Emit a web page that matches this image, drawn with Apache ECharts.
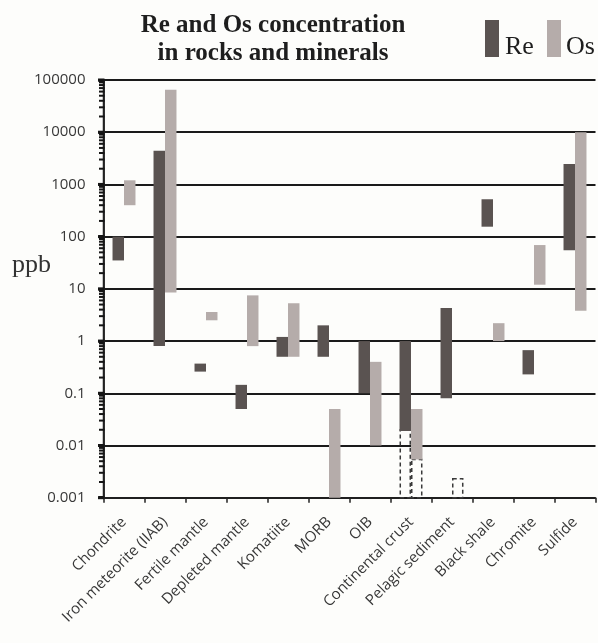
<!DOCTYPE html>
<html>
<head>
<meta charset="utf-8">
<script src="https://cdn.jsdelivr.net/npm/echarts@6/dist/echarts.min.js"></script>
<style>
html,body{margin:0;padding:0;background:#fdfdfb;}
#c{width:598px;height:643px;}
</style>
</head>
<body>
<div id="c"></div>
<script>
// ---- data ----
var categories = ['Chondrite', 'Iron meteorite (IIAB)', 'Fertile mantle', 'Depleted mantle', 'Komatiite', 'MORB', 'OIB', 'Continental crust', 'Pelagic sediment', 'Black shale', 'Chromite', 'Sulfide'];
var reLow  = [35, 0.8, 0.26, 0.05, 0.5, 0.5, 0.1, 0.019, 0.08, 155, 0.23, 55];
var reHigh = [100, 4400, 0.37, 0.145, 1.2, 2, 1, 1, 4.3, 520, 0.67, 2450];
var osLow  = [400, 8.5, 2.5, 0.8, 0.5, 0.001, 0.01, 0.0054, null, 1, 12, 3.8];
var osHigh = [1200, 65000, 3.6, 7.5, 5.3, 0.05, 0.4, 0.05, null, 2.2, 69, 10000];
// ranges drawn as dashed boxes: [category, low, high, side(-1 Re, 1 Os)]
var dashedRanges = [[7, 0.001, 0.02, -1], [7, 0.001, 0.0054, 1], [8, 0.001, 0.0023, 1]];
var yTickLabels = ['0.001', '0.01', '0.1', '1', '10', '100', '1000', '10000', '100000'];
var seriesNames = ['Re', 'Os'];

var RE_COLOR = '#5a5351';
var OS_COLOR = '#b5acaa';

function pairs(lo, hi) {
  var out = [];
  for (var i = 0; i < categories.length; i++) {
    if (lo[i] != null && hi[i] != null) out.push([i, lo[i], hi[i]]);
  }
  return out;
}

function barRender(side) {
  return function (params, api) {
    var c = api.value(0);
    var lo = api.coord([c, api.value(1)]);
    var hi = api.coord([c, api.value(2)]);
    var bw = params.coordSys.width / categories.length * 0.28;
    var x = side < 0 ? lo[0] - bw : lo[0];
    return {
      type: 'rect',
      shape: { x: x, y: hi[1], width: bw, height: lo[1] - hi[1] },
      style: api.style()
    };
  };
}

function dashedRender(params, api) {
  var c = api.value(0);
  var lo = api.coord([c, api.value(1)]);
  var hi = api.coord([c, api.value(2)]);
  var side = api.value(3);
  var bw = params.coordSys.width / categories.length * 0.28;
  var x = side < 0 ? lo[0] - bw : lo[0];
  return {
    type: 'rect',
    shape: { x: x + 0.75, y: hi[1], width: bw - 1.5, height: lo[1] - hi[1] },
    style: { fill: 'rgba(0,0,0,0)', stroke: '#3a3a3a', lineWidth: 1.5, lineDash: [4, 3] }
  };
}

// y-axis line with decade and logarithmic minor ticks (axis decoration, placed by the axis scale)
function axisDecorRender(params, api) {
  var cs = params.coordSys;
  var children = [{
    type: 'rect',
    shape: { x: cs.x - 0.75, y: cs.y, width: 2, height: cs.height },
    style: { fill: '#222' }
  }];
  for (var k = -3; k <= 5; k++) {
    for (var m = 1; m <= 9; m++) {
      var v = m * Math.pow(10, k);
      if (v > 100000) break;
      var y = api.coord([0, v])[1];
      var big = m === 1;
      children.push({
        type: 'rect',
        shape: { x: cs.x - (big ? 5.5 : 4.5), y: y - (big ? 1.5 : 1), width: big ? 6.5 : 5.5, height: big ? 3 : 2 },
        style: { fill: '#151515' }
      });
    }
  }
  return { type: 'group', children: children };
}

var chart = echarts.init(document.getElementById('c'));
var option = {
  backgroundColor: '#fdfdfb',
  animation: false,
  title: {
    text: 'Re and Os concentration\nin rocks and minerals',
    left: 273,
    top: 12,
    padding: 0,
    textAlign: 'center',
    textStyle: { fontFamily: 'Liberation Serif', fontWeight: 'bold', fontSize: 25, lineHeight: 28, color: '#1e1e1e' }
  },
  graphic: [{
    type: 'text',
    left: 12,
    top: 252,
    style: { text: 'ppb', fontFamily: 'Liberation Serif', fontSize: 26, fill: '#333' }
  }, {
    type: 'rect',
    left: 485, top: 20,
    shape: { width: 14, height: 37 },
    style: { fill: RE_COLOR }
  }, {
    type: 'text',
    left: 505, top: 34,
    style: { text: seriesNames[0], fontFamily: 'Liberation Serif', fontSize: 26, fill: '#1e1e1e' }
  }, {
    type: 'rect',
    left: 547, top: 20,
    shape: { width: 14, height: 37 },
    style: { fill: OS_COLOR }
  }, {
    type: 'text',
    left: 566, top: 34,
    style: { text: seriesNames[1], fontFamily: 'Liberation Serif', fontSize: 26, fill: '#1e1e1e' }
  }],
  grid: { left: 103.5, right: 2.5, top: 80, bottom: 145.3, containLabel: false },
  xAxis: {
    type: 'category',
    data: categories,
    boundaryGap: true,
    axisLine: { show: true, onZero: false, lineStyle: { color: '#222', width: 1.5 } },
    axisTick: { show: true, length: 5, lineStyle: { color: '#222', width: 1.5 } },
    axisLabel: {
      show: true, interval: 0, rotate: 45, margin: 22,
      fontFamily: 'Open Sans', fontSize: 15, color: '#383838'
    },
    splitLine: { show: false }
  },
  yAxis: {
    type: 'log',
    logBase: 10,
    min: 0.001,
    max: 100000,
    axisLine: { show: true, onZero: false, lineStyle: { color: '#222', width: 1.5 } },
    axisTick: { show: true, length: 5, lineStyle: { color: '#111', width: 3 } },
    axisLabel: {
      margin: 18, fontFamily: 'Open Sans', fontSize: 15, color: '#383838',
      formatter: function (v) {
        var e = Math.round(Math.log10(v));
        return yTickLabels[e + 3];
      }
    },
    splitLine: { show: true, lineStyle: { color: '#1a1a1a', width: 2 } }
  },
  series: [{
    type: 'custom',
    name: 'axisDecor',
    silent: true,
    clip: false,
    renderItem: axisDecorRender,
    encode: { x: 0, y: 1 },
    data: [[0, 1]],
    z: 10
  }, {
    type: 'custom',
    name: 'dashed',
    silent: true,
    renderItem: dashedRender,
    encode: { x: 0, y: [1, 2] },
    data: dashedRanges,
    z: 2
  }, {
    type: 'custom',
    name: seriesNames[0],
    itemStyle: { color: RE_COLOR },
    renderItem: barRender(-1),
    encode: { x: 0, y: [1, 2] },
    data: pairs(reLow, reHigh),
    z: 3
  }, {
    type: 'custom',
    name: seriesNames[1],
    itemStyle: { color: OS_COLOR },
    renderItem: barRender(1),
    encode: { x: 0, y: [1, 2] },
    data: pairs(osLow, osHigh),
    z: 3
  }]
};
chart.setOption(option);
</script>
</body>
</html>
